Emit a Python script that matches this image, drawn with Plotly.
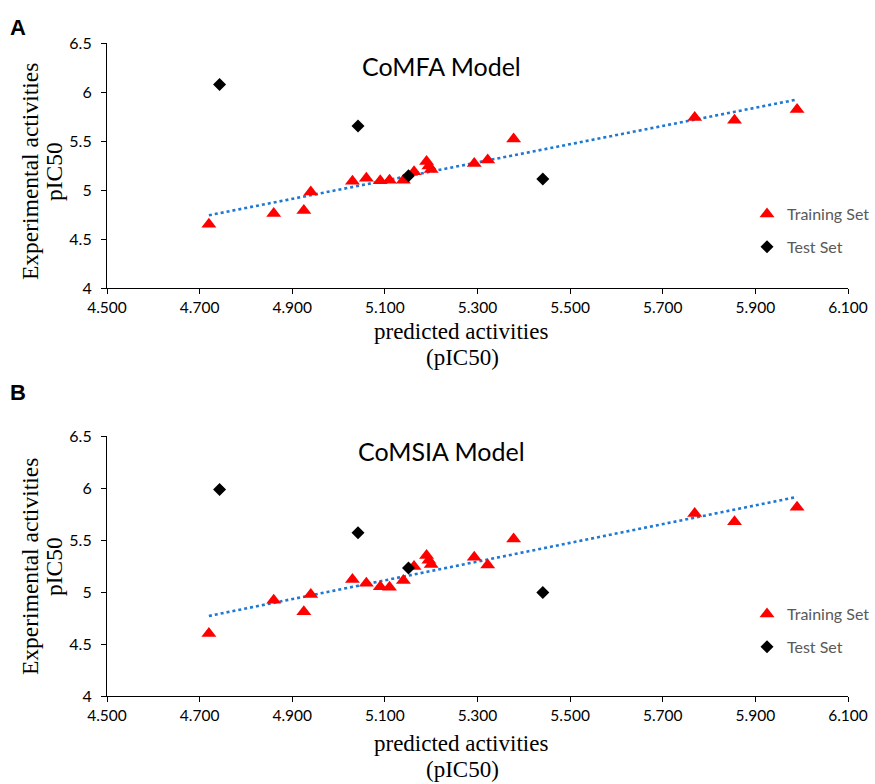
import numpy as np
import plotly.graph_objects as go
from plotly.subplots import make_subplots

# ---- data ----
train_pred = [4.72, 4.86, 4.925, 4.94, 5.03, 5.06, 5.09, 5.11, 5.14, 5.163, 5.19, 5.195, 5.20,
              5.293, 5.322, 5.378, 5.769, 5.855, 5.99]
comfa_train_exp = [4.65, 4.76, 4.79, 4.98, 5.09, 5.12, 5.095, 5.10, 5.10, 5.186, 5.29, 5.244, 5.21,
                   5.27, 5.305, 5.52, 5.74, 5.713, 5.822]
comsia_train_exp = [4.60, 4.92, 4.81, 4.975, 5.12, 5.085, 5.05, 5.045, 5.11, 5.245, 5.35, 5.305, 5.265,
                    5.335, 5.26, 5.51, 5.755, 5.675, 5.815]
test_pred = [4.743, 5.042, 5.151, 5.441]
comfa_test_exp = [6.076, 5.652, 5.146, 5.112]
comsia_test_exp = [5.985, 5.57, 5.23, 4.995]

x_ticks = [4.5, 4.7, 4.9, 5.1, 5.3, 5.5, 5.7, 5.9, 6.1]
y_ticks = [4, 4.5, 5, 5.5, 6, 6.5]
panel_titles = ["CoMFA Model", "CoMSIA Model"]
panel_letters = ["A", "B"]

W, H = 875, 784
ML, MR, MT, MB = 107, 27, 43, 88
PW, PH = W - ML - MR, H - MT - MB

def py(p):  # pixel y -> paper y
    return (H - MB - p) / PH

def px(p):
    return (p - ML) / PW

fig = make_subplots(rows=2, cols=1)
fig.update_layout(
    yaxis=dict(domain=[py(288), 1.0]),
    yaxis2=dict(domain=[0.0, py(436)]),
)

sans = "Lato, 'Open Sans', sans-serif"
serif = "'Liberation Serif', 'Times New Roman', serif"

datasets = [(comfa_train_exp, comfa_test_exp), (comsia_train_exp, comsia_test_exp)]
legends = ["legend", "legend2"]
for i, (tr, te) in enumerate(datasets):
    row = i + 1
    slope, intercept = np.polyfit(train_pred, tr, 1)
    xs = np.array([min(train_pred), max(train_pred)])
    fig.add_trace(go.Scatter(x=xs, y=slope * xs + intercept, mode="lines",
                             line=dict(color="#1F78D1", width=2.6, dash="dot"),
                             showlegend=False, hoverinfo="skip"), row=row, col=1)
    fig.add_trace(go.Scatter(x=train_pred, y=tr, mode="markers", name="Training Set",
                             marker=dict(symbol="triangle-up", size=13, color="#FF0000"),
                             legend=legends[i], legendgroup=f"tr{i}"), row=row, col=1)
    fig.add_trace(go.Scatter(x=test_pred, y=te, mode="markers", name="Test Set",
                             marker=dict(symbol="diamond", size=10, color="#000000"),
                             legend=legends[i], legendgroup=f"te{i}"), row=row, col=1)

axis_common = dict(showline=True, linecolor="black", linewidth=1.2, showgrid=False,
                   zeroline=False, ticks="outside", ticklen=5, tickcolor="black",
                   automargin=False)
for r in (1, 2):
    fig.update_xaxes(range=[4.5, 6.1], tickvals=x_ticks,
                     ticktext=[f"{v:.3f}" for v in x_ticks],
                     tickfont=dict(family=sans, size=15.5, color="black"), **axis_common, row=r, col=1)
    fig.update_yaxes(range=[4, 6.5], tickvals=y_ticks,
                     ticktext=[f"{v:g}" for v in y_ticks], ticklabelstandoff=6,
                     tickfont=dict(family=sans, size=16, color="black"), **axis_common, row=r, col=1)

legend_style = dict(font=dict(family=sans, size=16, color="#595959"), bgcolor="rgba(0,0,0,0)",
                    itemwidth=30, tracegroupgap=9, xanchor="left", yanchor="top")
fig.update_layout(
    legend=dict(x=px(747), y=py(197), **legend_style),
    legend2=dict(x=px(747), y=py(597), **legend_style),
)

ann = []
title_y = [66, 451]
ytitle_y = [172, 567]
xtitle_y = [(331, 357), (743, 770)]
letter_y = [27, 392]
base = dict(xref="paper", yref="paper", showarrow=False, xanchor="center", yanchor="middle")
for i in range(2):
    ann.append(dict(text=panel_titles[i], x=px(441), y=py(title_y[i]),
                    font=dict(family=sans, size=25, color="black"), **base))
    ann.append(dict(text="Experimental activities", x=px(30), y=py(ytitle_y[i]),
                    textangle=-90, font=dict(family=serif, size=23.5, color="black"), **base))
    ann.append(dict(text="pIC50", x=px(54), y=py(ytitle_y[i]),
                    textangle=-90, font=dict(family=serif, size=23.5, color="black"), **base))
    ann.append(dict(text="predicted activities", x=px(461), y=py(xtitle_y[i][0]),
                    font=dict(family=serif, size=23, color="black"), **base))
    ann.append(dict(text="(pIC50)", x=px(462), y=py(xtitle_y[i][1]),
                    font=dict(family=serif, size=23, color="black"), **base))
    ann.append(dict(text=f"<b>{panel_letters[i]}</b>", x=px(18), y=py(letter_y[i]),
                    font=dict(family="'Liberation Sans', Arial, sans-serif", size=22, color="black"),
                    **base))

fig.update_layout(width=W, height=H,
                  margin=dict(l=ML, r=MR, t=MT, b=MB, autoexpand=False),
                  paper_bgcolor="white", plot_bgcolor="white", annotations=ann)

fig.write_html("out.html", config={"displayModeBar": False},
               post_script="document.body.style.margin='0';"
               "document.body.style.overflow='hidden';")
